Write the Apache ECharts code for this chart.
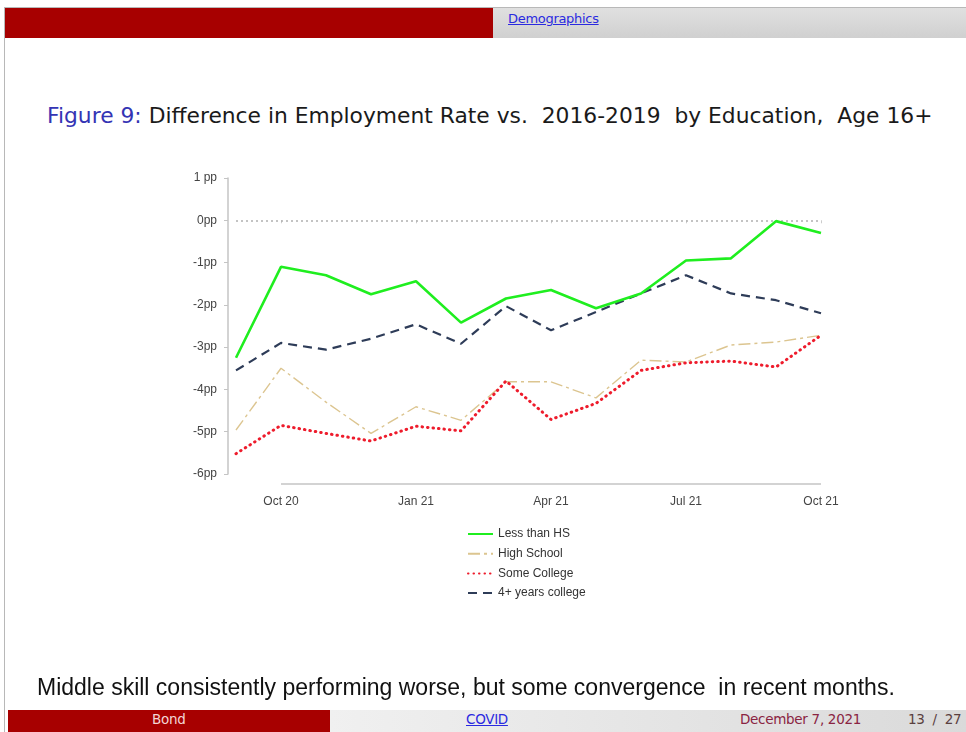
<!DOCTYPE html>
<html>
<head>
<meta charset="utf-8">
<script src="https://cdn.jsdelivr.net/npm/echarts@6/dist/echarts.min.js"></script>
<style>
  html, body { margin: 0; padding: 0; background: #ffffff; }
  body { width: 966px; height: 732px; position: relative; overflow: hidden; font-family: "Liberation Sans", Arial, sans-serif; }
  .frame-left { position: absolute; left: 4px; top: 7px; width: 1px; height: 725px; background: #b8b8b8; }
  .frame-top { position: absolute; left: 4px; top: 7px; width: 962px; height: 1px; background: #b8b8b8; }
  .hdr-red { position: absolute; left: 5px; top: 8px; width: 488px; height: 30px; background: #a70000; }
  .hdr-gray { position: absolute; left: 493px; top: 8px; width: 473px; height: 30px; background: linear-gradient(to bottom, #e0e0e0, #d0d0d0); }
  .hdr-link { position: absolute; left: 508px; top: 11px; font-family: "DejaVu Sans", sans-serif; font-size: 13px; color: #2a2ae0; text-decoration: underline; letter-spacing: -0.3px; }
  .title { position: absolute; left: 47px; top: 103px; font-family: "DejaVu Sans", sans-serif; font-size: 21.8px; color: #1a1a1a; white-space: pre; }
  .title .fig { color: #3434b4; }
  #chart { position: absolute; left: 0; top: 0; width: 966px; height: 732px; }
  .note { position: absolute; left: 37px; top: 674px; font-size: 23px; color: #111; white-space: pre; }
  .ftr-red { position: absolute; left: 8px; top: 710px; width: 322px; height: 22px; background: #a70000; }
  .ftr-gray { position: absolute; left: 330px; top: 710px; width: 636px; height: 22px; background: linear-gradient(to right, #f0f0f0, #dadada); }
  .ftr { position: absolute; top: 711px; font-family: "DejaVu Sans", sans-serif; font-size: 13.5px; white-space: pre; letter-spacing: -0.3px; }
</style>
</head>
<body>
<div class="frame-top"></div>
<div class="frame-left"></div>
<div class="hdr-red"></div>
<div class="hdr-gray"></div>
<div class="hdr-link">Demographics</div>
<div class="title"><span class="fig">Figure 9:</span> Difference in Employment Rate vs.  2016-2019  by Education,  Age 16+</div>
<div id="chart"></div>
<div class="note">Middle skill consistently performing worse, but some convergence  in recent months.</div>
<div class="ftr-red"></div>
<div class="ftr-gray"></div>
<div class="ftr" style="left:152px;color:#f3d6d6;">Bond</div>
<div class="ftr" style="left:466px;color:#2a2ae0;text-decoration:underline;">COVID</div>
<div class="ftr" style="left:740px;color:#8a2442;">December 7, 2021</div>
<div class="ftr" style="left:908px;color:#5a4040;">13  /  27</div>

<script>
// Months from Sep 2020 to Oct 2021
const months = ['Sep 20','Oct 20','Nov 20','Dec 20','Jan 21','Feb 21','Mar 21',
                'Apr 21','May 21','Jun 21','Jul 21','Aug 21','Sep 21','Oct 21'];
// Only these months carry a tick label
const labeledMonths = ['Oct 20','Jan 21','Apr 21','Jul 21','Oct 21'];

// Difference in employment rate vs. 2016-2019, percentage points
const lessThanHS   = [-3.25, -1.10, -1.30, -1.75, -1.44, -2.42, -1.85, -1.65, -2.08, -1.73, -0.95, -0.90, -0.02, -0.30];
const highSchool   = [-4.96, -3.50, -4.30, -5.04, -4.41, -4.73, -3.82, -3.82, -4.20, -3.31, -3.35, -2.95, -2.88, -2.72];
const someCollege  = [-5.52, -4.85, -5.04, -5.22, -4.87, -4.98, -3.80, -4.71, -4.33, -3.55, -3.37, -3.33, -3.47, -2.72];
const fourYrCollege= [-3.55, -2.90, -3.06, -2.80, -2.46, -2.92, -2.03, -2.60, -2.17, -1.73, -1.30, -1.73, -1.89, -2.20];

const yMin = -6, yMax = 1;

const chart = echarts.init(document.getElementById('chart'), null, { renderer: 'canvas' });
const axisFont = { fontFamily: 'Liberation Sans, Arial, sans-serif', fontSize: 12, color: '#444' };

const option = {
  animation: false,
  grid: { left: 236, right: 145, top: 178, bottom: 258 },
  xAxis: {
    type: 'category',
    data: months,
    boundaryGap: false,
    offset: 10,
    axisLine: { show: false },
    axisTick: {
      show: true, length: 3, lineStyle: { color: '#cccccc' },
      interval: (i, v) => labeledMonths.includes(v)
    },
    axisLabel: Object.assign({}, axisFont, {
      margin: 12,
      interval: (i, v) => labeledMonths.includes(v)
    }),
    splitLine: { show: false }
  },
  yAxis: {
    type: 'value',
    min: yMin, max: yMax, interval: 1,
    offset: 8,
    axisLine: { show: true, lineStyle: { color: '#c4c4c4', width: 1.5 } },
    axisTick: { show: true, length: 4, lineStyle: { color: '#c4c4c4' } },
    axisLabel: Object.assign({}, axisFont, {
      margin: 11,
      formatter: v => (v > 0 ? v + ' pp' : v + 'pp')
    }),
    splitLine: { show: false }
  },
  legend: {
    orient: 'vertical',
    left: 462, top: 523,
    itemWidth: 25, itemHeight: 12, itemGap: 7.7,
    itemStyle: { opacity: 0 },
    textStyle: { fontFamily: 'Liberation Sans, Arial, sans-serif', fontSize: 12, color: '#333' },
    data: ['Less than HS', 'High School', 'Some College', '4+ years college']
  },
  series: [
    {
      name: 'Less than HS', type: 'line', data: lessThanHS,
      symbol: 'none', z: 5,
      lineStyle: { color: '#1fee1f', width: 2.6 },
      itemStyle: { color: '#1fee1f' },
      markLine: {
        silent: true, symbol: 'none', label: { show: false },
        lineStyle: { color: '#b0b0b0', type: [2, 3], width: 1.5 },
        data: [{ yAxis: 0 }]
      }
    },
    {
      name: 'High School', type: 'line', data: highSchool,
      symbol: 'none', z: 3,
      lineStyle: { color: '#dcc590', width: 1.4, type: [12, 4, 3, 4] },
      itemStyle: { color: '#dcc590' }
    },
    {
      name: 'Some College', type: 'line', data: someCollege,
      symbol: 'none', z: 4,
      lineStyle: { color: '#ee1c2c', width: 3, type: [0.5, 5], cap: 'round' },
      itemStyle: { color: '#ee1c2c' }
    },
    {
      name: '4+ years college', type: 'line', data: fourYrCollege,
      symbol: 'none', z: 4,
      lineStyle: { color: '#2e3c58', width: 2.2, type: [9, 6] },
      itemStyle: { color: '#2e3c58' }
    }
  ]
};
chart.setOption(option);

// Horizontal axis rule drawn only across the labelled span (Oct 20 to Oct 21)
const xStart = chart.convertToPixel({ xAxisIndex: 0 }, labeledMonths[0]);
const xEnd = chart.convertToPixel({ xAxisIndex: 0 }, labeledMonths[labeledMonths.length - 1]);
const yBase = chart.convertToPixel({ yAxisIndex: 0 }, yMin) + 10;
chart.setOption({
  graphic: [{
    type: 'line', silent: true,
    shape: { x1: xStart, y1: yBase, x2: xEnd, y2: yBase },
    style: { stroke: '#c4c4c4', lineWidth: 1.5 }
  }]
});
</script>
</body>
</html>
